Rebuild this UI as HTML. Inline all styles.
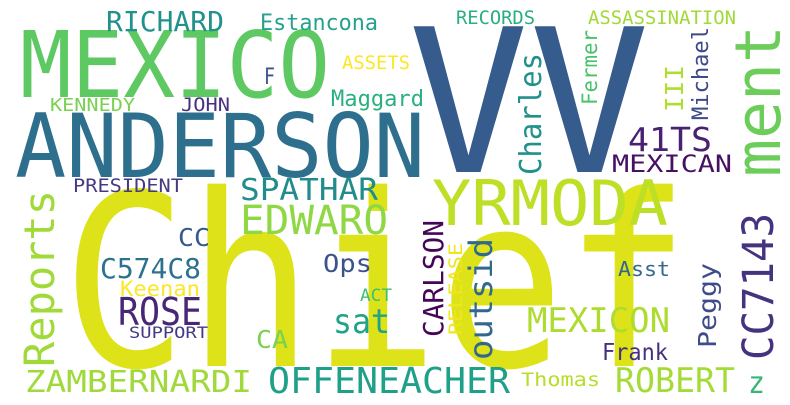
<!DOCTYPE html>
<html><head><meta charset="utf-8">
<style>
html,body{margin:0;padding:0;background:#fff;}
svg{display:block;}
text{font-family:"DejaVu Sans Mono","Liberation Mono",monospace;}
</style></head>
<body>
<svg width="790" height="405" viewBox="0 0 790 405">
<rect width="790" height="405" fill="#fff"/>
<g lengthAdjust="spacingAndGlyphs">
<text x="62" y="366" font-size="240" fill="#dde318" textLength="628" lengthAdjust="spacingAndGlyphs">Chief</text>
<text x="408" y="172" font-size="200" fill="#365c8d" textLength="242" lengthAdjust="spacingAndGlyphs">VV</text>
<text x="20" y="97" font-size="92" fill="#5ec962" textLength="310" lengthAdjust="spacingAndGlyphs">MEXICO</text>
<text x="15" y="177" font-size="88" fill="#2e6f8e" textLength="410" lengthAdjust="spacingAndGlyphs">ANDERSON</text>
<text x="106" y="31" font-size="28" fill="#21918c" textLength="118" lengthAdjust="spacingAndGlyphs">RICHARD</text>
<text x="260" y="30" font-size="22" fill="#25a18e" textLength="118" lengthAdjust="spacingAndGlyphs">Estancona</text>
<text x="456" y="24" font-size="19" fill="#29af7f" textLength="79" lengthAdjust="spacingAndGlyphs">RECORDS</text>
<text x="588" y="24" font-size="19" fill="#a0da39" textLength="148" lengthAdjust="spacingAndGlyphs">ASSASSINATION</text>
<text x="342" y="69" font-size="19" fill="#fde725" textLength="68" lengthAdjust="spacingAndGlyphs">ASSETS</text>
<text x="264" y="84" font-size="22" fill="#3b528b" textLength="11" lengthAdjust="spacingAndGlyphs">F</text>
<text x="50" y="111" font-size="18" fill="#7ad151" textLength="85" lengthAdjust="spacingAndGlyphs">KENNEDY</text>
<text x="181" y="111" font-size="19" fill="#46327e" textLength="49" lengthAdjust="spacingAndGlyphs">JOHN</text>
<text x="331" y="106" font-size="22" fill="#2ab07f" textLength="93" lengthAdjust="spacingAndGlyphs">Maggard</text>
<text x="73" y="192" font-size="19" fill="#443983" textLength="110" lengthAdjust="spacingAndGlyphs">PRESIDENT</text>
<text x="240" y="200" font-size="30" fill="#228c8d" textLength="138" lengthAdjust="spacingAndGlyphs">SPATHAR</text>
<text x="628" y="151" font-size="33" fill="#482173" textLength="84" lengthAdjust="spacingAndGlyphs">41TS</text>
<text x="612" y="172" font-size="24" fill="#471063" textLength="120" lengthAdjust="spacingAndGlyphs">MEXICAN</text>
<text x="432" y="225" font-size="62" fill="#bddf26" textLength="236" lengthAdjust="spacingAndGlyphs">YRMODA</text>
<text x="240" y="234" font-size="40" fill="#8fd744" textLength="148" lengthAdjust="spacingAndGlyphs">EDWARO</text>
<text x="178" y="246" font-size="25" fill="#38598c" textLength="32" lengthAdjust="spacingAndGlyphs">CC</text>
<text x="100" y="278" font-size="28" fill="#2c728e" textLength="101" lengthAdjust="spacingAndGlyphs">C574C8</text>
<text x="323" y="272" font-size="25" fill="#3b528b" textLength="49" lengthAdjust="spacingAndGlyphs">Ops</text>
<text x="120" y="296" font-size="21" fill="#fde725" textLength="80" lengthAdjust="spacingAndGlyphs">Keenan</text>
<text x="618" y="276" font-size="20" fill="#31688e" textLength="52" lengthAdjust="spacingAndGlyphs">Asst</text>
<text x="360" y="301" font-size="17" fill="#44bf70" textLength="32" lengthAdjust="spacingAndGlyphs">ACT</text>
<text x="118" y="325" font-size="38" fill="#482777" textLength="84" lengthAdjust="spacingAndGlyphs">ROSE</text>
<text x="333" y="333" font-size="34" fill="#20a386" textLength="57" lengthAdjust="spacingAndGlyphs">sat</text>
<text x="527" y="332" font-size="34" fill="#addc30" textLength="143" lengthAdjust="spacingAndGlyphs">MEXICON</text>
<text x="129" y="338" font-size="16" fill="#443a83" textLength="79" lengthAdjust="spacingAndGlyphs">SUPPORT</text>
<text x="256" y="348" font-size="25" fill="#7ad151" textLength="32" lengthAdjust="spacingAndGlyphs">CA</text>
<text x="602" y="360" font-size="23" fill="#46307e" textLength="66" lengthAdjust="spacingAndGlyphs">Frank</text>
<text x="25" y="392" font-size="30" fill="#9fda3a" textLength="227" lengthAdjust="spacingAndGlyphs">ZAMBERNARDI</text>
<text x="268" y="393" font-size="36" fill="#1fa088" textLength="242" lengthAdjust="spacingAndGlyphs">OFFENEACHER</text>
<text x="521" y="386" font-size="19" fill="#b5de2b" textLength="79" lengthAdjust="spacingAndGlyphs">Thomas</text>
<text x="615" y="392" font-size="34" fill="#a5db36" textLength="120" lengthAdjust="spacingAndGlyphs">ROBERT</text>
<text x="748" y="393" font-size="30" fill="#35b779" textLength="17" lengthAdjust="spacingAndGlyphs">z</text>

<text transform="translate(780,177) rotate(-90)" font-size="63" fill="#6ccd5a" textLength="152" lengthAdjust="spacingAndGlyphs">ment</text>
<text transform="translate(54,367) rotate(-90)" font-size="42" fill="#a0da39" textLength="177" lengthAdjust="spacingAndGlyphs">Reports</text>
<text transform="translate(541,175) rotate(-90)" font-size="30" fill="#21918c" textLength="122" lengthAdjust="spacingAndGlyphs">Charles</text>
<text transform="translate(597,105) rotate(-90)" font-size="21" fill="#4ac16d" textLength="75" lengthAdjust="spacingAndGlyphs">Fermer</text>
<text transform="translate(683,112) rotate(-90)" font-size="25" fill="#b0dd2f" textLength="47" lengthAdjust="spacingAndGlyphs">III</text>
<text transform="translate(708,120) rotate(-90)" font-size="22" fill="#3e4a89" textLength="93" lengthAdjust="spacingAndGlyphs">Michael</text>
<text transform="translate(443,337) rotate(-90)" font-size="28" fill="#450559" textLength="117" lengthAdjust="spacingAndGlyphs">CARLSON</text>
<text transform="translate(462,335) rotate(-90)" font-size="19" fill="#f1e51d" textLength="92" lengthAdjust="spacingAndGlyphs">RELEASE</text>
<text transform="translate(492,360) rotate(-90)" font-size="32" fill="#31688e" textLength="122" lengthAdjust="spacingAndGlyphs">outsid</text>
<text transform="translate(716,348) rotate(-90)" font-size="25" fill="#3e4c8a" textLength="85" lengthAdjust="spacingAndGlyphs">Peggy</text>
<text transform="translate(773,360) rotate(-90)" font-size="43" fill="#46337f" textLength="147" lengthAdjust="spacingAndGlyphs">CC7143</text>
</g>
</svg>
</body></html>
